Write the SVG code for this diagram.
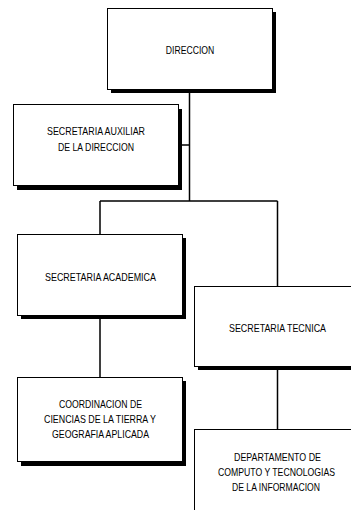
<svg xmlns="http://www.w3.org/2000/svg" width="351" height="510" viewBox="0 0 351 510">
<style>
.box{fill:#fff;stroke:#000;stroke-width:1}
.sh{fill:#000}
.t{font-family:"Liberation Sans",Arial,sans-serif;font-size:11px;fill:#000;text-anchor:middle}
.c{stroke:#000;stroke-width:1.5;fill:none}
</style>
<rect width="351" height="510" fill="#fff"/>
<g id="connectors">
<path class="c" d="M189.5,93 V201 M182,145 H189.5 M100,201 H277.5 M100,201 V234 M277.5,201 V286 M100,319 V377 M277.5,370 V429"/>
</g>
<g id="direccion">
<rect class="sh" x="111" y="12" width="165" height="81"/>
<rect class="box" x="107.5" y="8.5" width="165" height="81"/>
<text class="t" x="190" y="54" textLength="48.5" lengthAdjust="spacingAndGlyphs">DIRECCION</text>
</g>
<g id="sec-auxiliar">
<rect class="sh" x="17" y="109" width="165" height="81"/>
<rect class="box" x="13.5" y="104.5" width="165" height="81"/>
<text class="t" x="96" y="135" textLength="98" lengthAdjust="spacingAndGlyphs">SECRETARIA AUXILIAR</text>
<text class="t" x="96" y="150.5" textLength="76" lengthAdjust="spacingAndGlyphs">DE LA DIRECCION</text>
</g>
<g id="sec-academica">
<rect class="sh" x="21" y="238" width="165" height="81"/>
<rect class="box" x="17.5" y="234.5" width="165" height="81"/>
<text class="t" x="100.5" y="280.5" textLength="111" lengthAdjust="spacingAndGlyphs">SECRETARIA ACADEMICA</text>
</g>
<g id="sec-tecnica">
<rect class="sh" x="198" y="290" width="165" height="80"/>
<rect class="box" x="194.5" y="286.5" width="165" height="80"/>
<text class="t" x="277.5" y="331.5" textLength="97" lengthAdjust="spacingAndGlyphs">SECRETARIA TECNICA</text>
</g>
<g id="coordinacion">
<rect class="sh" x="21" y="381" width="165" height="85"/>
<rect class="box" x="17.5" y="377.5" width="165" height="84"/>
<text class="t" x="100.5" y="408.3" textLength="83" lengthAdjust="spacingAndGlyphs">COORDINACION DE</text>
<text class="t" x="100" y="423.3" textLength="112" lengthAdjust="spacingAndGlyphs">CIENCIAS DE LA TIERRA Y</text>
<text class="t" x="100.5" y="438.3" textLength="97" lengthAdjust="spacingAndGlyphs">GEOGRAFIA APLICADA</text>
</g>
<g id="departamento">
<rect class="box" x="194.5" y="429.5" width="165" height="90"/>
<text class="t" x="277.5" y="460.7" textLength="87" lengthAdjust="spacingAndGlyphs">DEPARTAMENTO DE</text>
<text class="t" x="276.5" y="476" textLength="117" lengthAdjust="spacingAndGlyphs">COMPUTO Y TECNOLOGIAS</text>
<text class="t" x="276" y="490.7" textLength="88" lengthAdjust="spacingAndGlyphs">DE LA INFORMACION</text>
</g>
</svg>
